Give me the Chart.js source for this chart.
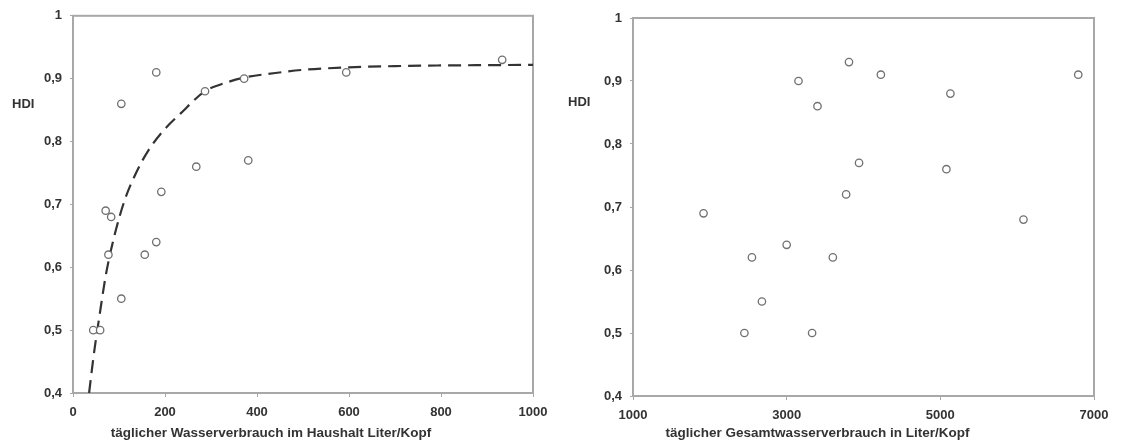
<!DOCTYPE html>
<html>
<head>
<meta charset="utf-8">
<script src="https://cdn.jsdelivr.net/npm/chart.js@4"></script>
<style>
  body { margin: 0; background: #fff; }
  #wrap { position: relative; width: 1122px; height: 444px; }
  .box { position: absolute; top: 0; width: 561px; height: 444px; }
</style>
</head>
<body>
<div id="wrap">
  <div class="box" style="left:0"><canvas id="left-chart" width="561" height="444"></canvas></div>
  <div class="box" style="left:561px"><canvas id="right-chart" width="561" height="444"></canvas></div>
</div>
<script>
// household water use (liters per head per day) vs HDI
const householdUse = [44, 59, 71, 83, 77, 105, 105, 156, 181, 181, 192, 268, 287, 372, 381, 594, 933];
const householdHdi = [0.5, 0.5, 0.69, 0.68, 0.62, 0.86, 0.55, 0.62, 0.91, 0.64, 0.72, 0.76, 0.88, 0.90, 0.77, 0.91, 0.93];

// dashed trend line
const trendX = [35, 45, 58, 72, 90, 112, 137, 164, 196, 233, 287, 330, 374, 440, 500, 600, 700, 800, 1000];
const trendY = [0.40, 0.46, 0.525, 0.59, 0.65, 0.706, 0.75, 0.786, 0.817, 0.844, 0.88, 0.893, 0.902, 0.909, 0.914, 0.918, 0.920, 0.921, 0.922];

// total water use (liters per head per day) vs HDI
const totalUse = [1918, 2450, 2548, 2678, 3000, 3154, 3331, 3401, 3601, 3774, 3811, 3942, 4226, 5079, 5131, 6082, 6795];
const totalHdi = [0.69, 0.5, 0.62, 0.55, 0.64, 0.90, 0.5, 0.86, 0.62, 0.72, 0.93, 0.77, 0.91, 0.76, 0.88, 0.68, 0.91];

const leftTicksX = [0, 200, 400, 600, 800, 1000];
const rightTicksX = [1000, 3000, 5000, 7000];
const hdiTicks = [0.4, 0.5, 0.6, 0.7, 0.8, 0.9, 1];

const textColor = '#333';
const axisColor = '#a8a8a8';
const font = { family: 'Arial, "Liberation Sans", sans-serif', size: 13, weight: 'bold' };

function toPoints(xs, ys) {
    return xs.map((x, i) => ({ x: x, y: ys[i] }));
}

function hdiLabel(v) {
    return v === 1 ? '1' : v.toFixed(1).replace('.', ',');
}

// draws the frame, the "HDI" label and the x title
function decorPlugin(xTitle, titleShift, hdiX, hdiY) {
    return {
        id: 'decor',
        beforeDatasetsDraw(chart) {
            const a = chart.chartArea;
            const ctx = chart.ctx;
            ctx.save();
            ctx.strokeStyle = axisColor;
            ctx.lineWidth = 2;
            ctx.strokeRect(a.left, a.top, a.right - a.left, a.bottom - a.top);
            ctx.restore();
        },
        afterDraw(chart) {
            const a = chart.chartArea;
            const ctx = chart.ctx;
            ctx.save();
            ctx.fillStyle = textColor;
            ctx.textBaseline = 'middle';
            ctx.textAlign = 'left';
            ctx.font = 'bold 13px Arial, "Liberation Sans", sans-serif';
            ctx.fillText('HDI', hdiX, hdiY);
            ctx.textAlign = 'center';
            ctx.font = 'bold 13.5px Arial, "Liberation Sans", sans-serif';
            ctx.fillText(xTitle, (a.left + a.right) / 2 + titleShift, 433);
            ctx.restore();
        }
    };
}

function makeChart(id, cfg) {
    const ctx = document.getElementById(id).getContext('2d');
    return new Chart(ctx, {
        type: 'scatter',
        data: { datasets: cfg.datasets },
        options: {
            responsive: false,
            animation: false,
            layout: { padding: { left: 0, right: cfg.padRight, top: cfg.padTop, bottom: 0 } },
            plugins: { legend: { display: false }, tooltip: { enabled: false } },
            scales: {
                x: {
                    type: 'linear',
                    min: cfg.xMin,
                    max: cfg.xMax,
                    afterBuildTicks: (s) => { s.ticks = cfg.xTicks.map(v => ({ value: v })); },
                    afterFit: (s) => { s.height = cfg.xHeight; },
                    grid: { drawOnChartArea: false, drawTicks: true, tickLength: 4, color: axisColor, lineWidth: 1 },
                    border: { color: axisColor, width: 2 },
                    ticks: { color: textColor, font: font, padding: 8, maxRotation: 0, callback: v => String(v) }
                },
                y: {
                    type: 'linear',
                    min: 0.4,
                    max: 1,
                    afterBuildTicks: (s) => { s.ticks = hdiTicks.map(v => ({ value: v })); },
                    afterFit: (s) => { s.width = cfg.yWidth; },
                    grid: { drawOnChartArea: false, drawTicks: true, tickLength: 3, color: axisColor, lineWidth: 1 },
                    border: { color: axisColor, width: 2 },
                    ticks: { color: textColor, font: font, padding: 8, callback: hdiLabel }
                }
            }
        },
        plugins: [decorPlugin(cfg.title, cfg.titleShift, cfg.hdiX, cfg.hdiY)]
    });
}

const pointStyle = {
    showLine: false,
    pointRadius: 3.7,
    pointBorderWidth: 1.3,
    pointBorderColor: '#707070',
    pointBackgroundColor: '#fff'
};

makeChart('left-chart', {
    datasets: [
        Object.assign({ label: 'HDI', data: toPoints(householdUse, householdHdi) }, pointStyle),
        {
            label: 'Trend',
            data: toPoints(trendX, trendY),
            showLine: true,
            borderColor: '#333',
            borderWidth: 2.2,
            borderDash: [13, 7],
            pointRadius: 0,
            cubicInterpolationMode: 'monotone'
        }
    ],
    xMin: 0, xMax: 1000, xTicks: leftTicksX,
    padRight: 28, padTop: 15, xHeight: 51, yWidth: 73,
    title: 'täglicher Wasserverbrauch im Haushalt Liter/Kopf', titleShift: -32,
    hdiX: 12, hdiY: 104
});

makeChart('right-chart', {
    datasets: [
        Object.assign({ label: 'HDI', data: toPoints(totalUse, totalHdi) }, pointStyle)
    ],
    xMin: 1000, xMax: 7000, xTicks: rightTicksX,
    padRight: 28, padTop: 18, xHeight: 48, yWidth: 72,
    title: 'täglicher Gesamtwasserverbrauch in Liter/Kopf', titleShift: -46,
    hdiX: 7, hdiY: 102
});
</script>
</body>
</html>
